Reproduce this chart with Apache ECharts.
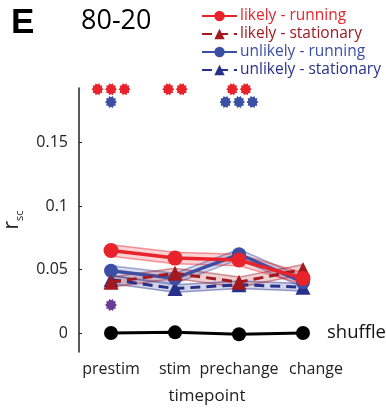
<!DOCTYPE html>
<html>
<head>
<meta charset="utf-8">
<script src="https://cdn.jsdelivr.net/npm/echarts@6/dist/echarts.min.js"></script>
<style>
  html, body { margin: 0; padding: 0; background: #fff; }
  #chart { width: 386px; height: 408px; }
</style>
</head>
<body>
<div id="chart"></div>
<script>
var timepoints = ['prestim', 'stim', 'prechange', 'change'];
var yTicks = [0, 0.05, 0.1, 0.15];

var likelyRunning = [0.065, 0.059, 0.0575, 0.043];
var likelyStationary = [0.040, 0.047, 0.040, 0.050];
var unlikelyRunning = [0.049, 0.043, 0.062, 0.040];
var unlikelyStationary = [0.042, 0.035, 0.038, 0.036];
var shuffle = [0, 0.0005, -0.001, 0];

// sem half-widths for the shaded bands
var likelyRunningErr = [0.0045, 0.0045, 0.0045, 0.0045];
var likelyStationaryErr = [0.004, 0.004, 0.004, 0.004];
var unlikelyRunningErr = [0.004, 0.004, 0.004, 0.004];
var unlikelyStationaryErr = [0.003, 0.003, 0.003, 0.003];

// number of significance stars per timepoint
var likelyStars = [3, 2, 2, 0];
var unlikelyStars = [1, 0, 3, 0];
var diffStars = [1, 0, 0, 0];
var diffStarValue = 0.022;

var RED = '#e8232b', DRED = '#a3191f', BLUE = '#3b4fa5', DBLUE = '#27318c', PURPLE = '#6b3b97';
var FONT = '"Open Sans", "Noto Sans", sans-serif';

// asterisk shape (serrated disc)
function starPath() {
    var n = 10, pts = [];
    for (var i = 0; i < n * 2; i++) {
        var a = Math.PI * i / n;
        var r = (i % 2 === 0) ? 1 : 0.75;
        pts.push((Math.cos(a) * r).toFixed(3) + ' ' + (Math.sin(a) * r).toFixed(3));
    }
    return 'path://M' + pts.join(' L') + ' Z';
}
var STAR = starPath();

function starItems(counts, value) {
    var items = [];
    counts.forEach(function (c, i) {
        for (var k = 0; k < c; k++) {
            items.push({ value: [timepoints[i], value], symbolOffset: [(k - (c - 1) / 2) * 13.5, 0] });
        }
    });
    return items;
}

function bandSeries(vals, errs, color, id) {
    var lower = vals.map(function (v, i) { return +(v - errs[i]).toFixed(4); });
    var width = errs.map(function (e) { return +(2 * e).toFixed(4); });
    return [{
        type: 'line', stack: id, data: lower, symbol: 'none', silent: true,
        lineStyle: { color: color, width: 1.5, opacity: 0.45 }, z: 1
    }, {
        type: 'line', stack: id, data: width, symbol: 'none', silent: true,
        lineStyle: { color: color, width: 1.5, opacity: 0.45 },
        areaStyle: { color: color, opacity: 0.2 }, z: 1
    }];
}

var series = [];
series = series.concat(bandSeries(unlikelyStationary, unlikelyStationaryErr, DBLUE, 'b1'));
series = series.concat(bandSeries(unlikelyRunning, unlikelyRunningErr, BLUE, 'b2'));
series = series.concat(bandSeries(likelyStationary, likelyStationaryErr, DRED, 'b3'));
series = series.concat(bandSeries(likelyRunning, likelyRunningErr, RED, 'b4'));

series.push({
    name: 'unlikely - stationary', type: 'line', data: unlikelyStationary,
    symbol: 'triangle', symbolSize: 15, z: 3,
    itemStyle: { color: DBLUE },
    lineStyle: { color: DBLUE, width: 3, type: [10, 6] }
});
series.push({
    name: 'unlikely - running', type: 'line', data: unlikelyRunning,
    symbol: 'circle', symbolSize: 14, z: 3,
    itemStyle: { color: BLUE },
    lineStyle: { color: BLUE, width: 3.5 }
});
series.push({
    name: 'likely - stationary', type: 'line', data: likelyStationary,
    symbol: 'triangle', symbolSize: 15, z: 4,
    itemStyle: { color: DRED },
    lineStyle: { color: DRED, width: 3, type: [10, 6] }
});
series.push({
    name: 'likely - running', type: 'line', data: likelyRunning,
    symbol: 'circle', symbolSize: 15, z: 5,
    itemStyle: { color: RED },
    lineStyle: { color: RED, width: 3.5 }
});
series.push({
    name: 'shuffle', type: 'line', data: shuffle,
    symbol: 'circle', symbolSize: 14, z: 5,
    itemStyle: { color: '#000' },
    lineStyle: { color: '#000', width: 3 },
    endLabel: { show: true, formatter: 'shuffle', distance: 24, fontFamily: FONT, fontSize: 18.5, color: '#111' }
});
series.push({
    type: 'scatter', data: starItems(likelyStars, 0.192), symbol: STAR, symbolSize: 12,
    itemStyle: { color: RED, opacity: 1 }, z: 6
});
series.push({
    type: 'scatter', data: starItems(unlikelyStars, 0.182), symbol: STAR, symbolSize: 12,
    itemStyle: { color: BLUE, opacity: 1 }, z: 6
});
series.push({
    type: 'scatter', data: starItems(diffStars, diffStarValue), symbol: STAR, symbolSize: 12,
    itemStyle: { color: PURPLE, opacity: 1 }, z: 6
});

// last label sits a little to the right, as in the figure
var xData = timepoints.map(function (t, i) {
    return i === timepoints.length - 1 ? { value: t, textStyle: { padding: [0, 0, 0, 26] } } : t;
});

var chart = echarts.init(document.getElementById('chart'));
chart.setOption({
    animation: false,
    textStyle: { fontFamily: FONT },
    title: [
        { text: 'E', left: 6, top: 1, textStyle: { fontSize: 35, fontWeight: 'bold', color: '#000', fontFamily: 'Liberation Sans, Arial, sans-serif' } },
        { text: '80-20', left: 76, top: 3, textStyle: { fontSize: 27, fontWeight: 'normal', color: '#000', fontFamily: FONT } }
    ],
    legend: {
        orient: 'vertical', left: 196, top: 3,
        itemWidth: 35, itemHeight: 13, itemGap: 2,
        textStyle: { fontSize: 15.5, fontFamily: FONT, padding: [0, 0, 0, -2] },
        data: [
            { name: 'likely - running', textStyle: { color: RED } },
            { name: 'likely - stationary', textStyle: { color: DRED } },
            { name: 'unlikely - running', textStyle: { color: BLUE } },
            { name: 'unlikely - stationary', textStyle: { color: DBLUE } }
        ]
    },
    grid: { left: 79, right: 51, top: 88, bottom: 56, outerBoundsMode: 'none', containLabel: false },
    xAxis: {
        type: 'category', data: xData,
        axisLine: { show: false, onZero: false }, axisTick: { show: false },
        axisLabel: { fontSize: 16, color: '#222', margin: 9, interval: 0 },
        name: 'timepoint', nameLocation: 'middle', nameGap: 36,
        nameTextStyle: { fontSize: 17, color: '#222' }
    },
    yAxis: {
        type: 'value', min: -0.015, max: 0.193,
        splitLine: { show: false },
        axisLine: { show: true, lineStyle: { color: '#222', width: 1.5 } },
        axisTick: { show: true, inside: true, length: 3, customValues: yTicks, lineStyle: { color: '#222' } },
        axisLabel: { fontSize: 16, color: '#222', margin: 11, customValues: yTicks,
            formatter: function (v) { return String(+v.toFixed(3)); } },
        name: '{r|r}{s|sc}', nameLocation: 'middle', nameGap: 40,
        nameTextStyle: {
            rich: {
                r: { fontSize: 21, color: '#222', fontFamily: FONT, verticalAlign: 'bottom' },
                s: { fontSize: 11, color: '#222', fontFamily: FONT, verticalAlign: 'bottom', padding: [0, 0, -3, 0] }
            }
        }
    },
    series: series
});
</script>
</body>
</html>
